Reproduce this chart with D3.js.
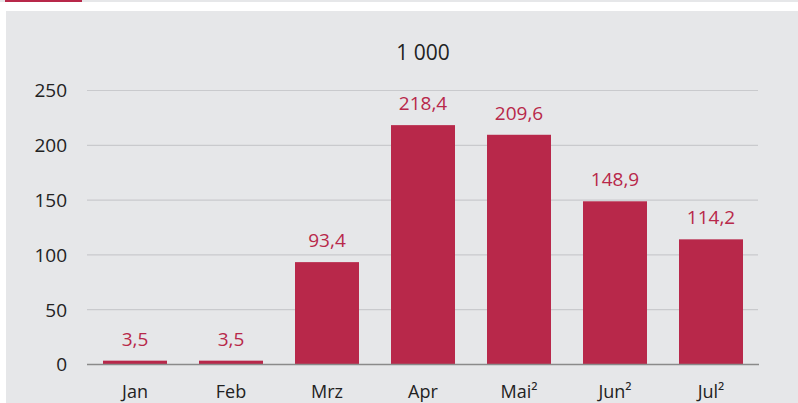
<!DOCTYPE html>
<html>
<head>
<meta charset="utf-8">
<script src="https://cdn.jsdelivr.net/npm/d3@7/dist/d3.min.js"></script>
<style>
  html, body { margin: 0; padding: 0; background: #fff; }
  svg { display: block; font-family: "Open Sans", "Noto Sans", sans-serif; }
</style>
</head>
<body>
<svg id="chart" width="798" height="403"></svg>
<script>
// Monthly values (in 1 000)
const months = ["Jan", "Feb", "Mrz", "Apr", "Mai²", "Jun²", "Jul²"];
const values = [3.5, 3.5, 93.4, 218.4, 209.6, 148.9, 114.2];
const yTicks = [0, 50, 100, 150, 200, 250];
const unitLabel = "1 000";

const W = 798, H = 403;
const svg = d3.select("#chart");
const barColor = "#b8284a";
const textColor = "#222";

// header strip with accent
svg.append("rect").attr("x", 0).attr("y", 0).attr("width", W).attr("height", 2).attr("fill", "#e6e7e9");
svg.append("rect").attr("x", 5).attr("y", 0).attr("width", 77).attr("height", 2).attr("fill", barColor);

// panel background
svg.append("rect").attr("x", 6).attr("y", 11).attr("width", W - 6).attr("height", H - 11).attr("fill", "#e6e7e9");

const x = d3.scaleBand().domain(months).range([87, 759]).paddingInner(1 / 3).paddingOuter(1 / 6);
const y = d3.scaleLinear().domain([0, 250]).range([364.5, 90.5]);

const fmt = v => d3.format(".1f")(v).replace(".", ",");

// horizontal gridlines
svg.append("g").selectAll("line").data(yTicks.filter(t => t > 0)).join("line")
  .attr("x1", 87).attr("x2", 758)
  .attr("y1", d => y(d)).attr("y2", d => y(d))
  .attr("stroke", "#c9cacd").attr("stroke-width", 1.2);

// y tick labels
svg.append("g").selectAll("text").data(yTicks).join("text")
  .attr("x", 67).attr("y", d => y(d))
  .attr("dy", "0.36em")
  .attr("text-anchor", "end")
  .attr("font-size", 19)
  .attr("fill", textColor)
  .text(d => d);

// bars
svg.append("g").selectAll("rect").data(values).join("rect")
  .attr("x", (d, i) => x(months[i]))
  .attr("width", x.bandwidth())
  .attr("y", d => y(d))
  .attr("height", d => y(0) - y(d))
  .attr("fill", barColor);

// value labels
svg.append("g").selectAll("text").data(values).join("text")
  .attr("x", (d, i) => x(months[i]) + x.bandwidth() / 2)
  .attr("y", d => y(d) - 15)
  .attr("text-anchor", "middle")
  .attr("font-size", 19)
  .attr("fill", barColor)
  .text(d => fmt(d));

// baseline
svg.append("line").attr("x1", 87).attr("x2", 759)
  .attr("y1", y(0)).attr("y2", y(0))
  .attr("stroke", "#8a8a8a").attr("stroke-width", 1.6);

// x labels
svg.append("g").selectAll("text").data(months).join("text")
  .attr("x", d => x(d) + x.bandwidth() / 2)
  .attr("y", 398)
  .attr("text-anchor", "middle")
  .attr("font-size", 18)
  .attr("fill", textColor)
  .text(d => d);

// unit title
svg.append("text").attr("x", 423).attr("y", 60)
  .attr("text-anchor", "middle")
  .attr("font-size", 21)
  .attr("fill", textColor)
  .text(unitLabel);
</script>
</body>
</html>
